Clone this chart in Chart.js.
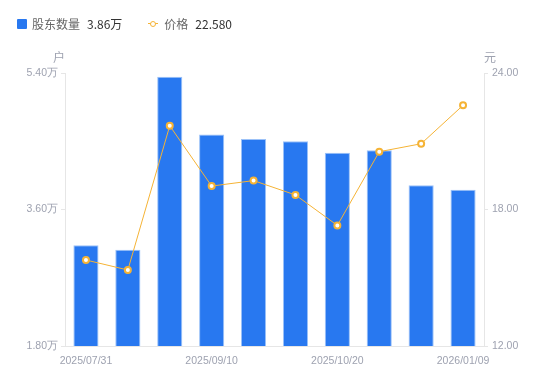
<!DOCTYPE html>
<html>
<head>
<meta charset="utf-8">
<script src="https://cdn.jsdelivr.net/npm/chart.js@4/dist/chart.umd.min.js"></script>
<style>
  body { margin: 0; background: #fff; font-family: "Noto Sans CJK SC", "Noto Sans", sans-serif; }
  #wrap { position: relative; width: 550px; height: 381px; }
  #legend { position: absolute; left: 17px; top: 15px; font-size: 12px; color: #666; display: flex; align-items: center; }
  .item { display: flex; align-items: center; margin-right: 26px; }
  .sq { width: 10px; height: 10px; background: #2878f0; border-radius: 1px; margin-right: 5px; }
  .mk { position: relative; width: 10px; height: 10px; margin-right: 6px; }
  .mk .ln { position: absolute; left: 0; top: 4.5px; width: 10px; height: 1px; background: #f5b335; }
  .mk .dot { position: absolute; left: 2px; top: 2px; width: 4px; height: 4px; border: 1.5px solid #f5b335; border-radius: 50%; background: #fff; }
  .val { color: #333; margin-left: 7px; }
  canvas { position: absolute; left: 0; top: 0; }
</style>
</head>
<body>
<div id="wrap">
  <canvas id="chart" width="550" height="381"></canvas>
  <div id="legend">
    <div class="item"><div class="sq"></div>股东数量<span class="val">3.86万</span></div>
    <div class="item"><div class="mk"><div class="ln"></div><div class="dot"></div></div>价格<span class="val">22.580</span></div>
  </div>
</div>
<script>
// data
var dates = ['2025/07/31', '2025/08/20', '2025/08/31', '2025/09/10', '2025/09/19', '2025/09/30',
             '2025/10/20', '2025/10/31', '2025/12/10', '2026/01/09'];
var holders = [3.13, 3.07, 5.35, 4.59, 4.53, 4.50, 4.35, 4.38, 3.92, 3.86];   // 万户
var prices = [15.78, 15.34, 21.68, 19.03, 19.27, 18.64, 17.30, 20.54, 20.89, 22.58]; // 元
var leftTicks = [1.8, 3.6, 5.4];
var rightTicks = [12, 18, 24];

var tickColor = '#9ea2b0';
var lineColor = '#e6e6e6';
var tickFont = { size: 10.5, family: '"Liberation Sans", Arial, sans-serif' };

// draws the unit labels above the two y axes
var unitTitles = {
    id: 'unitTitles',
    afterDraw: function(chart) {
        var ctx = chart.ctx;
        var area = chart.chartArea;
        ctx.save();
        ctx.font = '12px "Noto Sans CJK SC", sans-serif';
        ctx.fillStyle = tickColor;
        ctx.textAlign = 'center';
        ctx.textBaseline = 'middle';
        ctx.fillText('户', area.left - 6, area.top - 16);
        ctx.fillText('元', area.right + 6, area.top - 16);
        ctx.restore();
    }
};

new Chart(document.getElementById('chart'), {
    type: 'bar',
    data: {
        labels: dates,
        datasets: [{
            type: 'line',
            label: '价格',
            data: prices,
            yAxisID: 'y1',
            borderColor: '#f5b335',
            borderWidth: 1,
            pointRadius: 3,
            pointBorderWidth: 2,
            pointBackgroundColor: '#fff',
            pointBorderColor: '#f5b335',
            tension: 0,
            order: 0
        }, {
            label: '股东数量',
            data: holders,
            yAxisID: 'y',
            backgroundColor: '#2878f0',
            borderColor: '#9cc2f8',
            borderWidth: { top: 1, left: 1, right: 1, bottom: 0 },
            barPercentage: 0.6,
            categoryPercentage: 1,
            order: 1
        }]
    },
    options: {
        responsive: false,
        animation: false,
        layout: { padding: { top: 73, left: 0, right: 0, bottom: 0 } },
        plugins: { legend: { display: false }, tooltip: { enabled: false } },
        scales: {
            x: {
                offset: true,
                grid: { display: false },
                border: { display: true, color: lineColor },
                ticks: {
                    autoSkip: false,
                    maxRotation: 0,
                    color: tickColor,
                    font: tickFont,
                    padding: 1,
                    callback: function(v, i) { return i % 3 === 0 ? dates[i] : ''; }
                },
                afterFit: function(s) { s.height = 35; }
            },
            y: {
                position: 'left',
                min: 1.8,
                max: 5.4,
                afterBuildTicks: function(s) { s.ticks = leftTicks.map(function(v) { return { value: v }; }); },
                grid: { drawOnChartArea: false, drawTicks: true, tickLength: 4, color: lineColor },
                border: { display: true, color: lineColor },
                ticks: {
                    color: tickColor,
                    font: tickFont,
                    padding: 3,
                    callback: function(v) { return v.toFixed(2) + '万'; }
                },
                afterFit: function(s) { s.width = 65; }
            },
            y1: {
                position: 'right',
                min: 12,
                max: 24,
                afterBuildTicks: function(s) { s.ticks = rightTicks.map(function(v) { return { value: v }; }); },
                grid: { drawOnChartArea: false, drawTicks: true, tickLength: 4, color: lineColor },
                border: { display: true, color: lineColor },
                ticks: {
                    color: tickColor,
                    font: tickFont,
                    padding: 4,
                    callback: function(v) { return v.toFixed(2); }
                },
                afterFit: function(s) { s.width = 66; }
            }
        }
    },
    plugins: [unitTitles]
});
</script>
</body>
</html>
